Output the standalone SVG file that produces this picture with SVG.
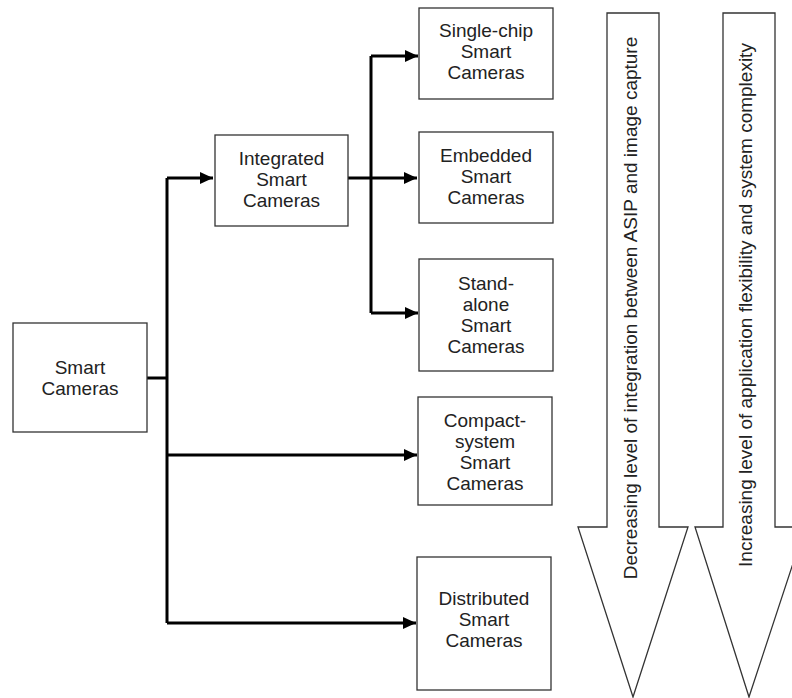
<svg xmlns="http://www.w3.org/2000/svg" width="792" height="698" viewBox="0 0 792 698">
<style>
.box{fill:#fff;stroke:#333;stroke-width:1.3}
.t{font-family:"Liberation Sans",Arial,sans-serif;font-size:19px;fill:#222;text-anchor:middle}
.c{fill:none;stroke:#000;stroke-width:3}
.big{fill:#fff;stroke:#333;stroke-width:1.3}
</style>
<defs>
<marker id="ah" markerWidth="14" markerHeight="12" refX="13" refY="6" orient="auto" markerUnits="userSpaceOnUse">
<path d="M0,0 L13,6 L0,12 z" fill="#000"/>
</marker>
</defs>
<rect width="792" height="698" fill="#fff"/>
<g id="connectors">
<path class="c" d="M147,378 H167"/>
<path class="c" d="M167,178 V623"/>
<path class="c" d="M167,178 H213" marker-end="url(#ah)"/>
<path class="c" d="M167,455 H417" marker-end="url(#ah)"/>
<path class="c" d="M167,623 H416" marker-end="url(#ah)"/>
<path class="c" d="M348,178 H417" marker-end="url(#ah)"/>
<path class="c" d="M371,56 V313"/>
<path class="c" d="M371,56 H418" marker-end="url(#ah)"/>
<path class="c" d="M371,313 H418" marker-end="url(#ah)"/>
</g>
<g id="smart">
<rect class="box" x="13" y="323" width="134" height="109"/>
<text class="t" x="80" y="374">Smart</text>
<text class="t" x="80" y="395">Cameras</text>
</g>
<g id="integrated">
<rect class="box" x="215" y="135" width="133" height="91"/>
<text class="t" x="281.5" y="165">Integrated</text>
<text class="t" x="281.5" y="186">Smart</text>
<text class="t" x="281.5" y="207">Cameras</text>
</g>
<g id="singlechip">
<rect class="box" x="419" y="8" width="134" height="91"/>
<text class="t" x="486" y="37">Single-chip</text>
<text class="t" x="486" y="58">Smart</text>
<text class="t" x="486" y="79">Cameras</text>
</g>
<g id="embedded">
<rect class="box" x="419" y="132" width="134" height="91"/>
<text class="t" x="486" y="162">Embedded</text>
<text class="t" x="486" y="183">Smart</text>
<text class="t" x="486" y="204">Cameras</text>
</g>
<g id="standalone">
<rect class="box" x="419" y="259" width="134" height="112"/>
<text class="t" x="486" y="290">Stand-</text>
<text class="t" x="486" y="311">alone</text>
<text class="t" x="486" y="332">Smart</text>
<text class="t" x="486" y="353">Cameras</text>
</g>
<g id="compact">
<rect class="box" x="418" y="397" width="134" height="108"/>
<text class="t" x="485" y="427">Compact-</text>
<text class="t" x="485" y="448">system</text>
<text class="t" x="485" y="469">Smart</text>
<text class="t" x="485" y="490">Cameras</text>
</g>
<g id="distributed">
<rect class="box" x="417" y="557" width="134" height="133"/>
<text class="t" x="484" y="605">Distributed</text>
<text class="t" x="484" y="626">Smart</text>
<text class="t" x="484" y="647">Cameras</text>
</g>
<g id="arrow1">
<path class="big" d="M607,13 H659 V527 H688 L633,697 L578,527 H607 Z"/>
<text class="t" x="0" y="0" text-anchor="middle" transform="translate(637,308) rotate(-90)">Decreasing level of integration between ASIP and image capture</text>
</g>
<g id="arrow2">
<path class="big" d="M723,13 H775 V527 H805 L749,697 L695,527 H723 Z"/>
<text class="t" x="0" y="0" transform="translate(752,305) rotate(-90)">Increasing level of application flexibility and system complexity</text>
</g>
</svg>
